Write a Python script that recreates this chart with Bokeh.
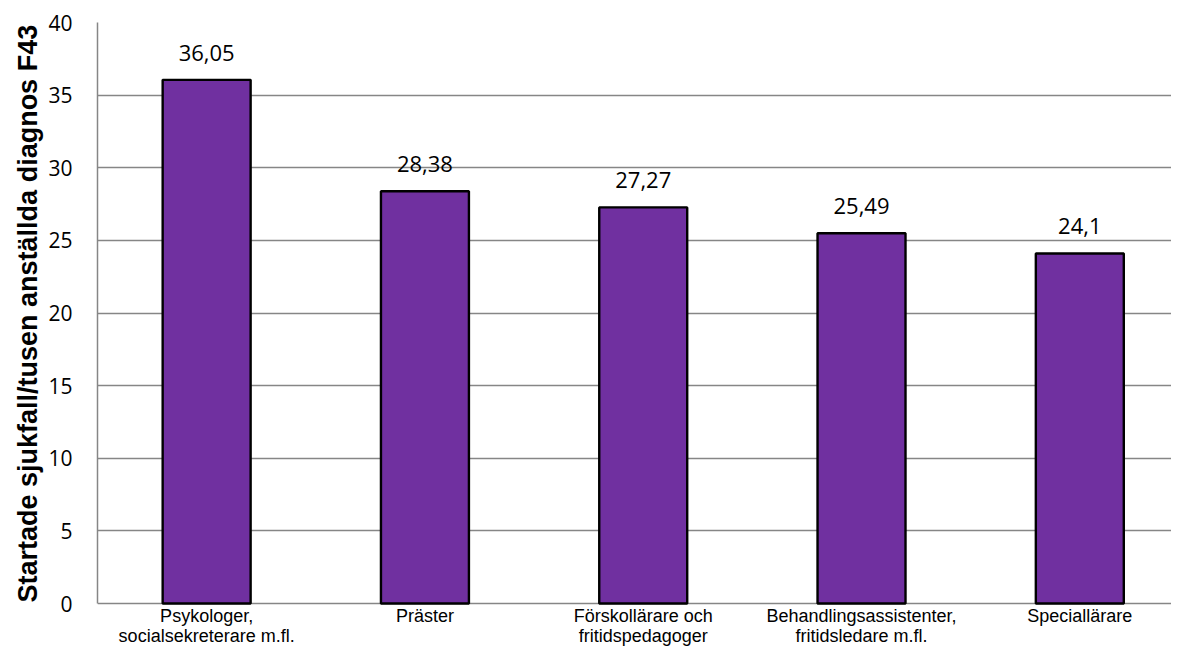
from bokeh.plotting import figure
from bokeh.models import ColumnDataSource, FixedTicker, Range1d, Title
from bokeh.embed import file_html
from bokeh.resources import INLINE
from bokeh.core.properties import value

categories = ["Psykologer,\nsocialsekreterare m.fl.", "Präster", "Förskollärare och\nfritidspedagoger",
              "Behandlingsassistenter,\nfritidsledare m.fl.", "Speciallärare"]
values = [36.05, 28.38, 27.27, 25.49, 24.1]
value_labels = ["36,05", "28,38", "27,27", "25,49", "24,1"]
y_ticks = [0, 5, 10, 15, 20, 25, 30, 35, 40]

xs = list(range(len(categories)))
src = ColumnDataSource(dict(x=xs, top=values, lab=value_labels, cat=categories))

# y range extends below 0 so the category labels can be drawn inside the frame under the baseline
p = figure(width=1171, height=648, output_backend="svg", toolbar_location=None,
           x_range=Range1d(-0.5, 4.42), y_range=Range1d(-3.098, 40),
           min_border_left=97, min_border_right=0, min_border_top=22, min_border_bottom=0)
p.outline_line_color = None
p.background_fill_color = "white"
p.xaxis.visible = False

p.vbar(x="x", top="top", bottom=0, width=0.403, source=src, fill_color="#7030A0",
       line_color="black", line_width=2.4)
p.text(x="x", y="top", text="lab", source=src, text_align="center", text_baseline="alphabetic",
       y_offset=-27, text_font=value("Open Sans"), text_font_size="22px", text_color="black")
p.text(x="x", y=0, text="cat", source=src, text_align="center", text_baseline="top",
       y_offset=2, text_font=value("Liberation Sans"), text_font_size="18px",
       text_line_height=1.0, text_color="black")

p.yaxis.ticker = FixedTicker(ticks=y_ticks)
p.yaxis.bounds = (0, 40)
p.yaxis.major_label_text_font = "Open Sans"
p.yaxis.major_label_text_font_size = "21px"
p.yaxis.major_label_text_color = "black"
p.yaxis.major_tick_line_color = None
p.yaxis.major_tick_out = 0
p.yaxis.major_tick_in = 0
p.yaxis.minor_tick_line_color = None
p.yaxis.axis_line_color = "#868686"
p.yaxis.axis_line_width = 1.5
p.yaxis.major_label_standoff = 25

title = Title(text="Startade sjukfall/tusen anställda diagnos F43", align="left",
              text_font="Liberation Sans", text_font_style="bold", text_font_size="27px",
              text_color="black", offset=46, standoff=6)
p.add_layout(title, "left")

p.xgrid.grid_line_color = None
p.ygrid.ticker = FixedTicker(ticks=y_ticks)
p.ygrid.grid_line_color = "#868686"
p.ygrid.grid_line_width = 1.5

open("out.html", "w").write(file_html(p, INLINE))
